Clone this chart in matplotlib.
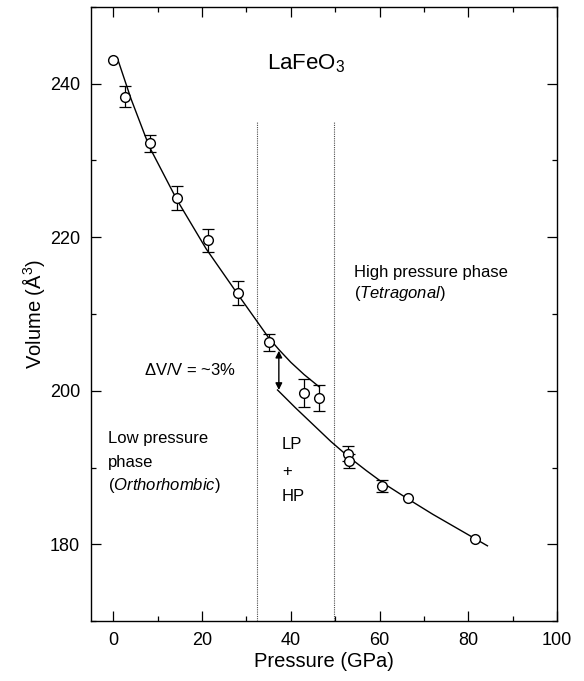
import numpy as np
import matplotlib
matplotlib.use("Agg")
import matplotlib.pyplot as plt
from matplotlib.ticker import MultipleLocator

plt.rcParams["font.family"] = ["Liberation Sans", "DejaVu Sans"]
plt.rcParams["mathtext.fontset"] = "custom"
plt.rcParams["mathtext.rm"] = "Liberation Sans"
plt.rcParams["mathtext.it"] = "Liberation Sans:italic"

# measured points
pressure = [0.0, 2.6, 8.2, 14.3, 21.3, 28.0, 35.1, 42.9, 46.4, 52.9, 53.1, 60.6, 66.4, 81.5]
volume = [243.1, 238.3, 232.2, 225.1, 219.6, 212.7, 206.3, 199.7, 199.0, 191.8, 190.8, 187.6, 186.0, 180.7]
vol_err = [0.0, 1.4, 1.05, 1.5, 1.5, 1.6, 1.15, 1.85, 1.7, 1.0, 0.9, 0.8, 0.0, 0.0]

# fitted curves
lp_p = [1.1, 4.0, 8.1, 14.3, 20.9, 28.0, 35.0, 37.4, 40.0, 43.0, 46.4]
lp_v = [243.0, 238.0, 231.8, 224.9, 218.5, 212.6, 206.9, 205.3, 203.7, 202.1, 200.5]
hp_p = [37.0, 41.0, 45.0, 49.0, 53.0, 57.0, 61.0, 66.4, 72.0, 78.0, 84.3]
hp_v = [200.1, 197.8, 195.6, 193.4, 191.4, 189.6, 187.9, 185.9, 183.9, 181.9, 179.8]

phase_bounds = [32.3, 49.8]
arrow_p = 37.3
arrow_v = [205.2, 200.1]

fig = plt.figure(figsize=(5.84, 6.81), dpi=100)
ax = fig.add_axes([0.156, 0.088, 0.798, 0.902])

for xb in phase_bounds:
    ax.plot([xb, xb], [170, 235], ls=(0, (1, 1)), color="0.3", lw=0.8)

ax.plot(lp_p, lp_v, color="black", lw=1.0)
ax.plot(hp_p, hp_v, color="black", lw=1.0)

p = np.array(pressure)
v = np.array(volume)
e = np.array(vol_err)
m = e > 0
ax.errorbar(p[m], v[m], yerr=e[m], fmt="none", ecolor="black", elinewidth=0.9,
            capsize=4.5, capthick=0.9)
ax.plot(p, v, "o", mfc="white", mec="black", ms=7, mew=1.0, zorder=5)

ax.annotate("", xy=(arrow_p, arrow_v[0]), xytext=(arrow_p, arrow_v[1]),
            arrowprops=dict(arrowstyle="<|-|>", color="black", lw=1.0,
                            mutation_scale=10, shrinkA=0, shrinkB=0))

fs = 12
ax.text(43.5, 242.6, r"LaFeO$_3$", fontsize=16, ha="center", va="center")
ax.text(7.0, 202.7, r"$\Delta$V/V = ~3%", fontsize=fs, va="center")
ax.text(-1.1, 193.8, "Low pressure", fontsize=fs, va="center")
ax.text(-1.1, 190.7, "phase", fontsize=fs, va="center")
ax.text(-1.1, 187.6, "(" + "$\\it{Orthorhombic}$" + ")", fontsize=fs, va="center")
ax.text(38.0, 193.0, "LP", fontsize=fs, va="center")
ax.text(38.0, 189.5, "+", fontsize=fs, va="center")
ax.text(38.0, 186.2, "HP", fontsize=fs, va="center")
ax.text(54.3, 215.4, "High pressure phase", fontsize=fs, va="center")
ax.text(54.3, 212.7, "(" + "$\\it{Tetragonal}$" + ")", fontsize=fs, va="center")

ax.set_xlim(-5, 100)
ax.set_ylim(170, 250)
ax.set_xticks([0, 20, 40, 60, 80, 100])
ax.set_yticks([180, 200, 220, 240])
ax.xaxis.set_minor_locator(MultipleLocator(10))
ax.yaxis.set_minor_locator(MultipleLocator(10))
ax.tick_params(which="both", direction="in", top=True, right=True, labelsize=13, width=0.9)
ax.tick_params(which="major", length=7, pad=8)
ax.tick_params(which="minor", length=3.5)
for s in ax.spines.values():
    s.set_linewidth(1.0)

ax.set_xlabel("Pressure (GPa)", fontsize=14.5, labelpad=2)
ax.set_ylabel(r"Volume ($\mathregular{\AA^3}$)", fontsize=14.5, labelpad=2)

fig.savefig("out.png", dpi=100)
